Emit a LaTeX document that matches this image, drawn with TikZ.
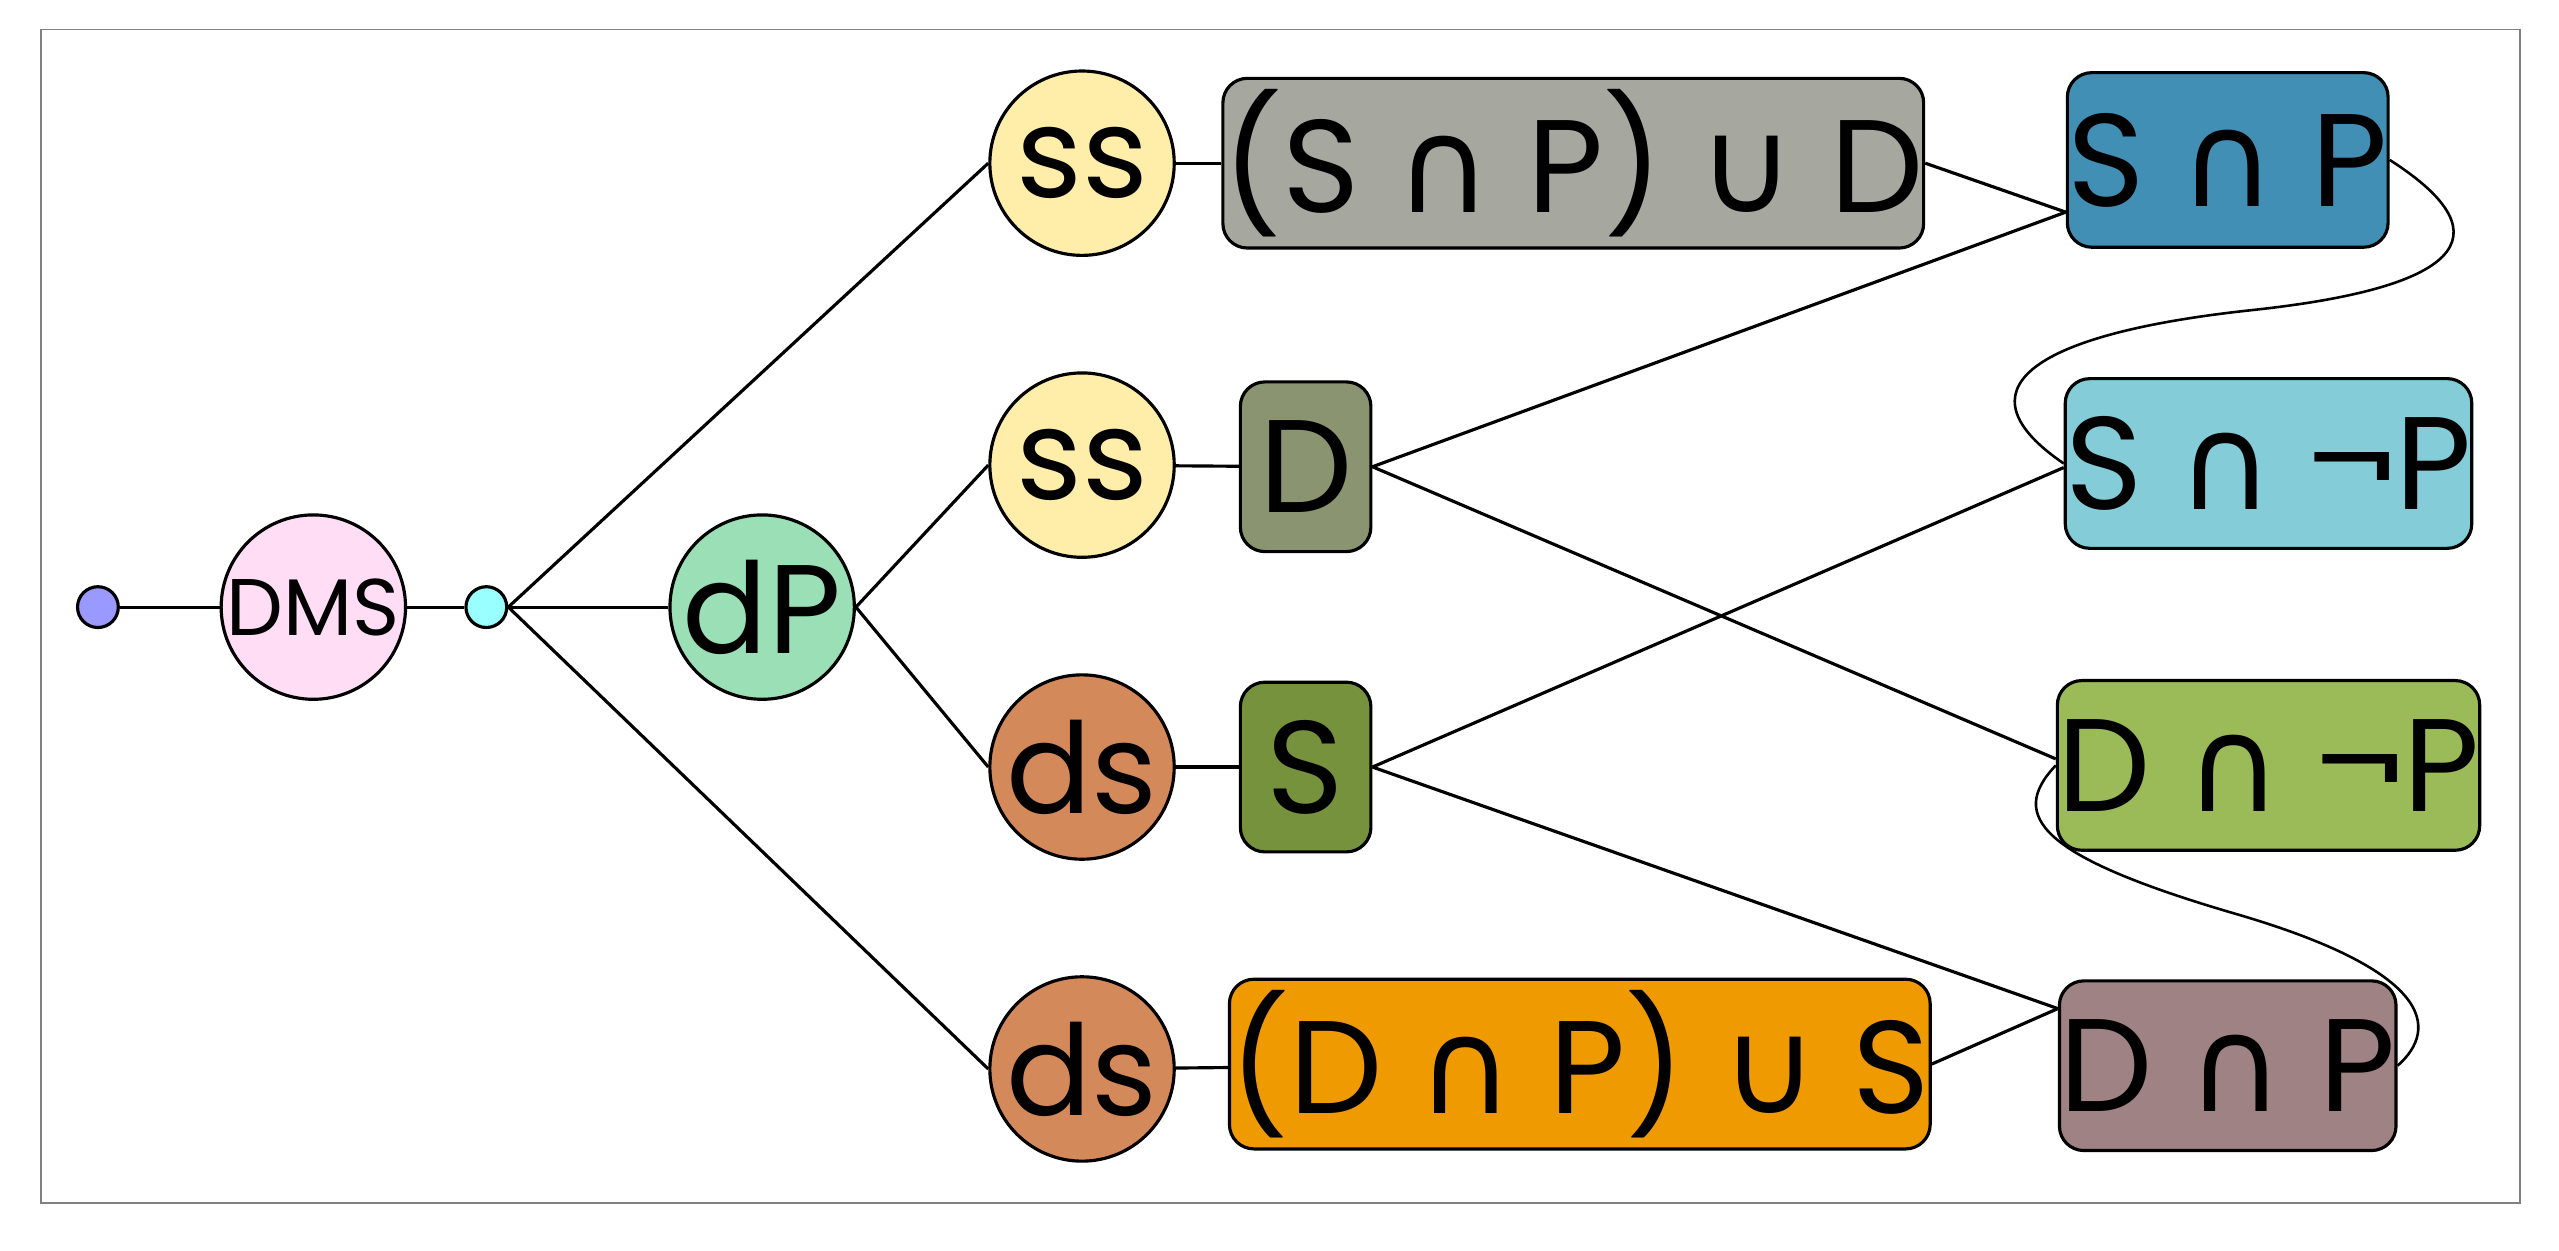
\documentclass[tikz,border=0pt]{standalone}
\usepackage{fontspec}
\setmainfont{Poppins}
\newfontfamily\symf{DejaVu Sans}
\usetikzlibrary{calc}
\newcommand{\ca}{{\symf ∩}}
\newcommand{\cu}{{\symf ∪}}
\definecolor{cdms}{HTML}{FFDDF5}
\definecolor{cdp}{HTML}{9ADFB5}
\definecolor{css}{HTML}{FFEEAA}
\definecolor{cds}{HTML}{D4895A}
\definecolor{cbone}{HTML}{A6A8A0}
\definecolor{cbd}{HTML}{8A9470}
\definecolor{cbs}{HTML}{76923C}
\definecolor{cbfour}{HTML}{EE9A00}
\definecolor{cspn}{HTML}{418FB4}
\definecolor{csnp}{HTML}{83CCD8}
\definecolor{cdnp}{HTML}{9BBB59}
\definecolor{cdpn}{HTML}{9F8283}
\begin{document}
\begin{tikzpicture}[x=0.02cm,y=-0.02cm,line width=1.1pt,
  circ/.style={circle,draw,minimum size=2.26cm,inner sep=0pt,font=\fontsize{44}{44}\selectfont},
  dot/.style={circle,draw,minimum size=0.5cm,inner sep=0pt},
  bx/.style={rectangle,rounded corners=0.3cm,draw,minimum height=2.08cm,inner sep=0pt,font=\fontsize{46}{46}\selectfont}]
\path[use as bounding box] (0,0) rectangle (1568,766);
\draw[gray,line width=0.5pt] (25,18) rectangle (1544,737);
\node[dot,fill={rgb,255:red,153;green,153;blue,255}] (b) at (60,372) {};
\node[circ,fill=cdms,font=\fontsize{28}{28}\selectfont] (dms) at (192,372) {DMS};
\node[dot,fill={rgb,255:red,153;green,255;blue,255}] (c) at (298,372) {};
\node[circ,fill=cdp] (dp) at (467,372) {dP};
\node[circ,fill=css] (ssa) at (663,100) {ss};
\node[circ,fill=css] (ssb) at (663,285) {ss};
\node[circ,fill=cds] (dsa) at (663,470) {ds};
\node[circ,fill=cds] (dsb) at (663,655) {ds};
\node[bx,fill=cbone,minimum width=8.16cm] (bone) at (964,100) {(S \ca{} P) \cu{} D};
\node[bx,fill=cbd,minimum width=1.6cm] (bd) at (800,286) {D};
\node[bx,fill=cbs,minimum width=1.6cm] (bs) at (800,470) {S};
\node[bx,fill=cbfour,minimum width=8.32cm] (bfour) at (968,652) {(D \ca{} P) \cu{} S};
\node[bx,fill=cspn,minimum width=3.88cm,minimum height=2.14cm] (spn) at (1365,98) {S \ca{} P};
\node[bx,fill=csnp,minimum width=4.88cm] (snp) at (1390,284) {S \ca{} ¬P};
\node[bx,fill=cdnp,minimum width=4.88cm] (dnp) at (1390,469) {D \ca{} ¬P};
\node[bx,fill=cdpn,minimum width=3.88cm] (dpn) at (1365,653) {D \ca{} P};
\draw (b) -- (dms);
\draw (dms) -- (c);
\draw (c.east) -- (dp);
\draw (c.east) -- (ssa.west);
\draw (c.east) -- (dsb.west);
\draw (dp.east) -- (ssb.west);
\draw (dp.east) -- (dsa.west);
\draw (ssa) -- (bone);
\draw (ssb) -- (bd);
\draw (dsa) -- (bs);
\draw (dsb) -- (bfour);
\coordinate (spnin) at ([yshift=-0.64cm]spn.west);
\coordinate (snpin) at ([yshift=-0.05cm]snp.west);
\coordinate (dnpin) at ([yshift=0.08cm]dnp.west);
\coordinate (dpnin) at ([yshift=0.7cm]dpn.west);
\draw ([yshift=0cm]bone.east) -- (spnin);
\draw (bd.east) -- (spnin);
\draw (bd.east) -- (dnpin);
\draw (bs.east) -- (snpin);
\draw (bs.east) -- (dpnin);
\draw (bfour.east) -- (dpnin);
\draw[line width=0.9pt] (spn.east) .. controls (1530,140) and (1520,175) .. (1380,190)
  .. controls (1240,205) and (1200,240) .. (snp.west);
\draw[line width=0.9pt] (dnp.west) .. controls (1230,500) and (1250,525) .. (1370,560)
  .. controls (1490,595) and (1495,630) .. (dpn.east);
\end{tikzpicture}
\end{document}
